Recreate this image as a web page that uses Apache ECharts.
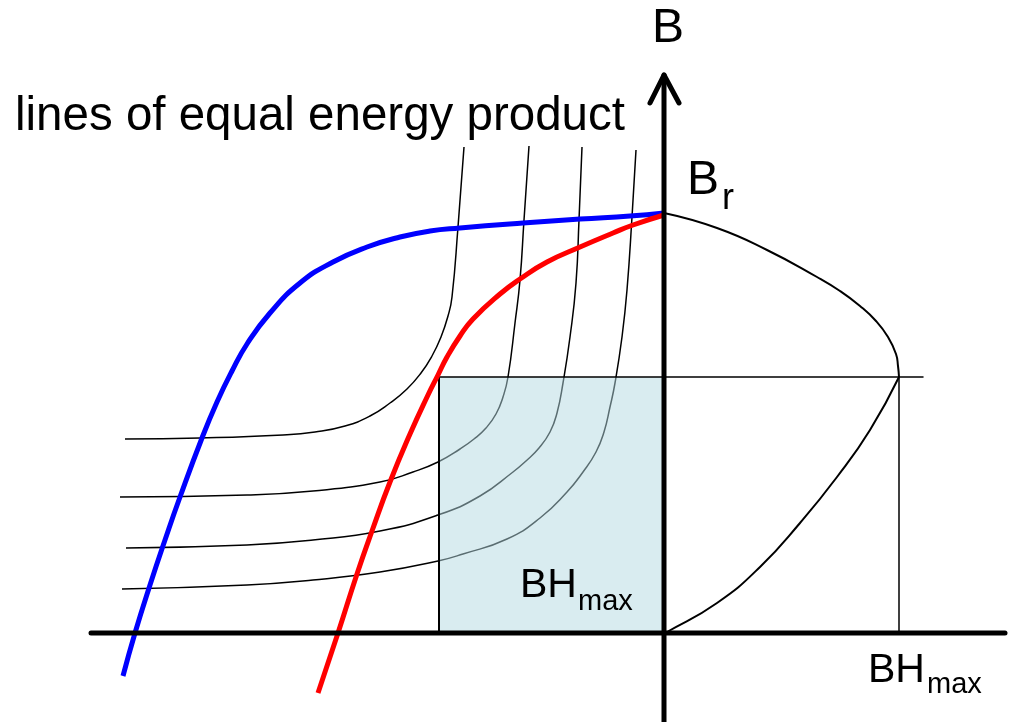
<!DOCTYPE html>
<html>
<head>
<meta charset="utf-8">
<script src="https://cdn.jsdelivr.net/npm/echarts@6/dist/echarts.min.js"></script>
<style>
  html, body { margin: 0; padding: 0; background: #fff; }
  #chart { width: 1009px; height: 722px; }
</style>
</head>
<body>
<div id="chart"></div>
<script>
// H on x, B on y; origin where the two axes cross
const blueCurve = [[-541,-43],[-529,0],[-514,48],[-499,93],[-484,136],[-462,195],[-447,231],[-432,262],[-417,289],[-394,320],[-364,350],[-331,371],[-297,386],[-264,396],[-234,402],[-204,405],[-141,410],[-84,414],[-34,417],[0,420]];
const redCurve = [[-346,-60],[-326,0],[-307,59],[-292,102],[-274,151],[-254,199],[-236,238],[-226,258],[-217,276],[-204,297],[-191,314],[-164,339],[-144,354],[-117,371],[-84,386],[-51,400],[-31,408],[0,418]];

// lines of equal energy product
const hyper1 = [[-200,486],[-206,406],[-212,336],[-216,317],[-223,296],[-232,277],[-243,260],[-257,244],[-274,230],[-294,217],[-319,207],[-349,201],[-381,198],[-464,195],[-539,194]];
const hyper2 = [[-135,487],[-140,413],[-144,353],[-149,310],[-156,256],[-161,236],[-168,219],[-178,205],[-190,194],[-204,184],[-226,171],[-251,161],[-284,151],[-351,142],[-417,138],[-544,136]];
const hyper3 = [[-82,486],[-85,413],[-88,350],[-94,296],[-101,250],[-107,220],[-114,201],[-125,185],[-138,172],[-151,161],[-184,137],[-226,118],[-284,102],[-351,93],[-417,88],[-538,85]];
const hyper4 = [[-28,483],[-32,416],[-37,343],[-42,296],[-49,250],[-54,226],[-60,201],[-68,181],[-81,161],[-97,141],[-124,115],[-157,94],[-201,79],[-226,72],[-284,61],[-351,53],[-417,48],[-542,44]];

// B·H against B on the right hand side
const bhUpper = [[0,420],[53,405],[103,383],[153,356],[176,342],[196,327],[212,312],[224,296],[232,279],[234,267],[235,256]];
const bhLower = [[235,256],[206,203],[173,156],[136,110],[96,66],[53,30],[3,1],[0,0]];

// working point / BHmax box
const boxTop = [[-225,256],[0,256]];
const boxLeft = [[-225,256],[-225,0]];
const bhLine = [[-225,256],[259,256]];
const bhDrop = [[235,256],[235,0]];

const hAxis = [[-573,0],[341,0]];
const bAxis = [[0,-89],[0,558]];
const bArrow = [[-14,530],[0,558],[15,530]];

const chart = echarts.init(document.getElementById('chart'));

const curve = (data, color, width, z) => ({
  type: 'line', data: data, smooth: 0.5, symbol: 'none', silent: true, z: z,
  lineStyle: { color: color, width: width }
});
const straight = (data, color, width, z) => ({
  type: 'line', data: data, smooth: false, symbol: 'none', silent: true, z: z,
  lineStyle: { color: color, width: width, cap: 'round', join: 'round' }
});

const txt = (text, x, y, size) => ({
  type: 'text', x: x, y: y, z: 100,
  style: {
    text: text, fill: '#000', font: size + 'px "Liberation Sans", Arial, sans-serif',
    align: 'left', verticalAlign: 'middle'
  }
});

chart.setOption({
  animation: false,
  backgroundColor: '#fff',
  grid: { left: 0, right: 0, top: 0, bottom: 0 },
  xAxis: { type: 'value', min: -664, max: 345, show: false },
  yAxis: { type: 'value', min: -89, max: 633, show: false },
  series: [
    curve(hyper1, '#000', 1.5, 2),
    curve(hyper2, '#000', 1.5, 2),
    curve(hyper3, '#000', 1.5, 2),
    curve(hyper4, '#000', 1.5, 2),
    {
      type: 'line', data: boxTop, symbol: 'none', silent: true, z: 3,
      lineStyle: { width: 0 },
      areaStyle: { color: 'rgba(180,218,226,0.5)', opacity: 1 }
    },
    straight(bhLine, '#000', 1.5, 4),
    straight(boxLeft, '#000', 2, 4),
    straight(bhDrop, '#000', 1.5, 4),
    curve(bhUpper, '#000', 2, 4),
    curve(bhLower, '#000', 2, 4),
    curve(blueCurve, '#0000ff', 5, 5),
    curve(redCurve, '#ff0000', 5, 5),
    straight(hAxis, '#000', 5, 6),
    straight(bAxis, '#000', 5, 6),
    straight(bArrow, '#000', 5, 6)
  ],
  graphic: [
    txt('lines of equal energy product', 15, 117, 47.5),
    txt('B', 652, 29, 48),
    txt('B', 687, 181, 48),
    txt('r', 722, 199, 36),
    txt('BH', 520, 586, 41),
    txt('max', 578, 602, 29),
    txt('BH', 868, 671, 41),
    txt('max', 927, 685, 29)
  ]
});
</script>
</body>
</html>
